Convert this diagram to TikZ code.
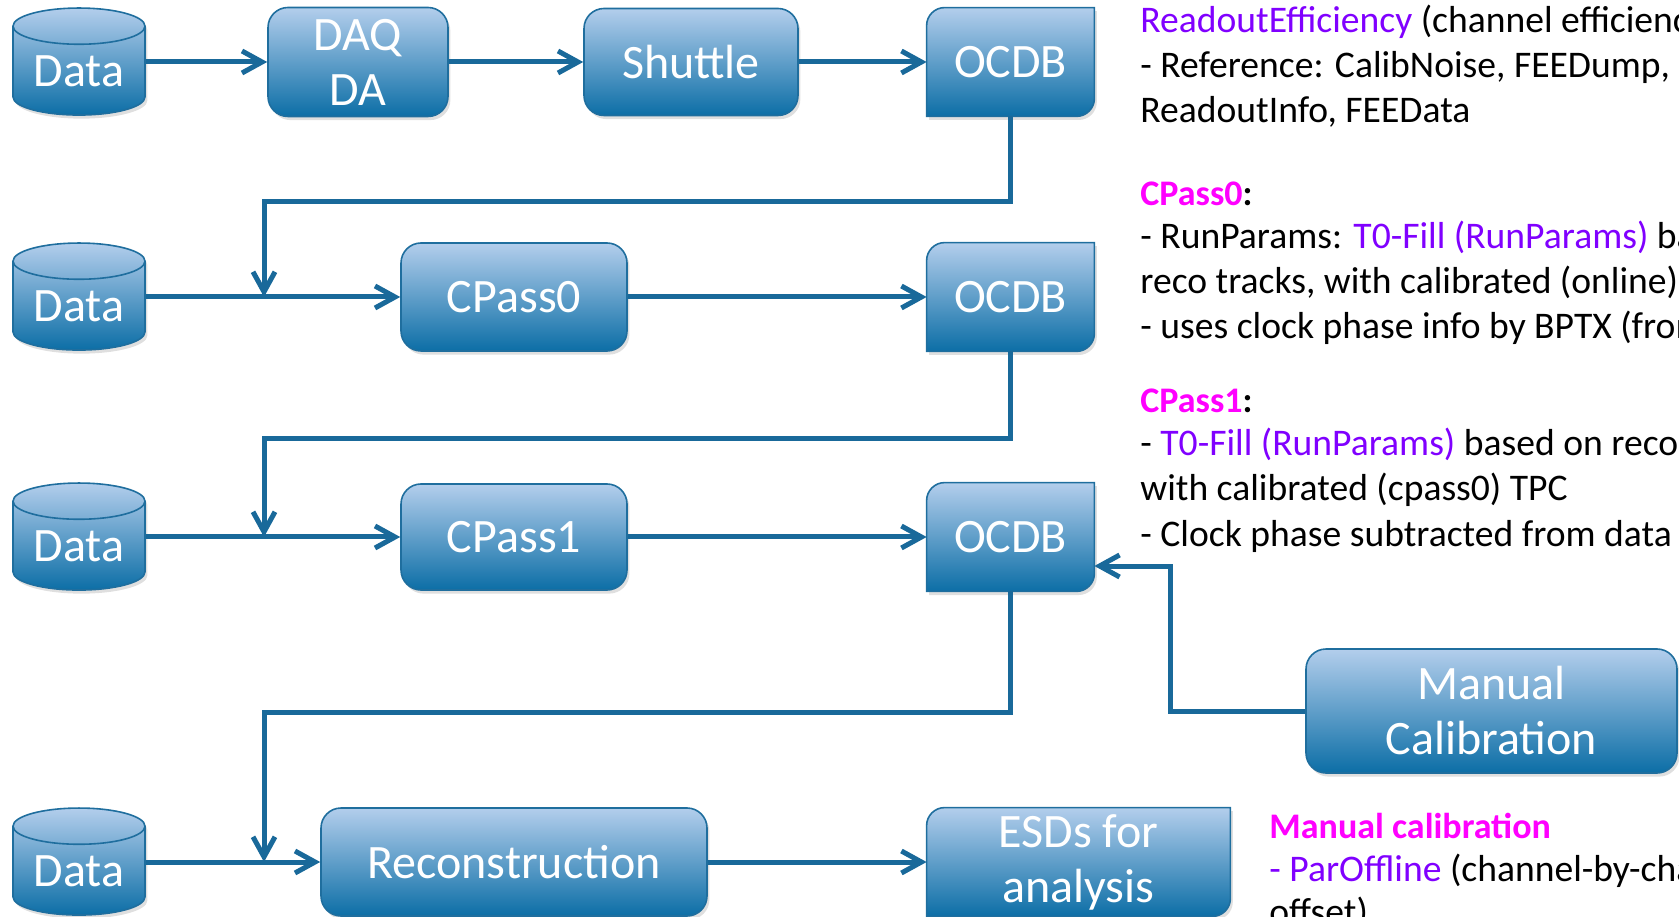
\documentclass[tikz,border=0pt]{standalone}
\usepackage{fontspec}
\setmainfont{Carlito}
\usetikzlibrary{shapes.geometric,arrows.meta,shadows,backgrounds}

\definecolor{boxline}{HTML}{1F6E9E}
\definecolor{flowline}{HTML}{19699A}
\definecolor{boxtop}{HTML}{B3CEEC}
\definecolor{boxbot}{HTML}{0C6EA6}
\definecolor{runpurple}{HTML}{8000FF}
\definecolor{passpink}{HTML}{FF00FF}

\tikzset{
  boxfill/.style={draw=boxline, line width=0.8pt, top color=boxtop, bottom color=boxbot,
    drop shadow={opacity=0.25, shadow xshift=1.2pt, shadow yshift=-1.8pt}},
  stage/.style={boxfill, rounded corners=10pt, text=white, align=center, inner sep=0pt,
    font=\fontsize{24}{27.5}\selectfont},
  dbbox/.style={text=white, align=center, inner sep=0pt, minimum width=83.5pt,
    minimum height=54pt, font=\fontsize{24}{27.5}\selectfont},
  store/.style={cylinder, shape border rotate=90, aspect=0.4, boxfill, text=white,
    inner sep=0pt, minimum width=66pt, minimum height=53.5pt,
    font=\fontsize{24}{27.5}\selectfont},
  flow/.style={draw=flowline, line width=2.5pt, -{Straight Barb[length=10pt,width=11pt]}},
  note/.style={anchor=base west, align=left, inner sep=0pt, font=\fontsize{18.8}{22.5}\selectfont}
}

% box with two rounded corners (top left, bottom right)
\newcommand\diagshape[1]{%
  \begin{scope}[on background layer]
    \shade[boxfill] (#1.south west) -- ([yshift=-9pt]#1.north west)
      arc[start angle=180,end angle=90,radius=9pt] -- (#1.north east)
      -- ([yshift=9pt]#1.south east)
      arc[start angle=0,end angle=-90,radius=9pt] -- cycle;
  \end{scope}}
\newcommand\headtxt[1]{{\fontsize{18}{22.5}\selectfont\bfseries #1}}

\begin{document}
\begin{tikzpicture}[x=0.5pt,y=0.5pt]
  \useasboundingbox (0,0) rectangle (1679,916);
  \clip (0,0) rectangle (1679,916);

  % row 1
  \node[store] (data1) at (79,845) {\raisebox{-3pt}{Data}};
  \node[stage, minimum width=90pt, minimum height=54.5pt] (daq) at (358,854) {DAQ\\DA};
  \node[stage, minimum width=107pt, minimum height=53.5pt] (shuttle) at (691,854) {Shuttle};
  \node[dbbox] (ocdb1) at (1010.5,854) {OCDB};
  \diagshape{ocdb1}

  % row 2
  \node[store] (data2) at (79,610) {\raisebox{-3pt}{Data}};
  \node[stage, minimum width=113pt, minimum height=54pt] (cpass0) at (514,619) {CPass0};
  \node[dbbox] (ocdb2) at (1010.5,619) {OCDB};
  \diagshape{ocdb2}

  % row 3
  \node[store] (data3) at (79,370) {\raisebox{-3pt}{Data}};
  \node[stage, minimum width=113pt, minimum height=53pt] (cpass1) at (514,379) {CPass1};
  \node[dbbox] (ocdb3) at (1010.5,379) {OCDB};
  \diagshape{ocdb3}
  \node[stage, minimum width=185.5pt, minimum height=62pt] (manual) at (1491.5,205) {Manual\\Calibration};

  % row 4
  \node[store] (data4) at (79,45) {\raisebox{-3pt}{Data}};
  \node[stage, minimum width=193pt, minimum height=54pt] (recon) at (514,54) {Reconstruction};
  \node[dbbox, minimum width=151.5pt] (esds) at (1078.5,54) {ESDs for\\analysis};
  \diagshape{esds}

  \coordinate (bend1) at (264,714);
  \coordinate (join1) at (264,619);
  \coordinate (bend2) at (264,477);
  \coordinate (join2) at (264,379);
  \coordinate (bend3) at (264,204);
  \coordinate (join3) at (264,54);
  \coordinate (mcup) at (1170,350);
  \coordinate (mcin) at (ocdb3.east |- mcup);

  \draw[flow] (data1.east |- daq.west) -- (daq.west);
  \draw[flow] (daq.east) -- (shuttle.west);
  \draw[flow] (shuttle.east) -- (ocdb1.west);
  \draw[flow] (ocdb1.south) |- (bend1) -- (join1);
  \draw[flow] (data2.east |- cpass0.west) -- (cpass0.west);
  \draw[flow] (cpass0.east) -- (ocdb2.west);
  \draw[flow] (ocdb2.south) |- (bend2) -- (join2);
  \draw[flow] (data3.east |- cpass1.west) -- (cpass1.west);
  \draw[flow] (cpass1.east) -- (ocdb3.west);
  \draw[flow] (ocdb3.south) |- (bend3) -- (join3);
  \draw[flow] (manual.west) -| (mcup) -- (mcin);
  \draw[flow] (data4.east |- recon.west) -- (recon.west);
  \draw[flow] (recon.east) -- (esds.west);

  % notes (anchored at the baseline of the last line)
  \node[note] (effnote) at (1140,793) {\textcolor{runpurple}{ReadoutEfficiency} (channel efficiency)\\
    - Reference: CalibNoise, FEEDump, DCSData\\
    ReadoutInfo, FEEData};
  \node[note] (pass0note) at (1140,577) {\headtxt{\textcolor{passpink}{CPass0}:}\\[-1pt]
    - RunParams: \textcolor{runpurple}{T0-Fill (RunParams)} based on\\
    reco tracks, with calibrated (online)\\
    - uses clock phase info by BPTX (from DCS)};
  \node[note] (pass1note) at (1140,370) {\headtxt{\textcolor{passpink}{CPass1}:}\\[-1pt]
    - \textcolor{runpurple}{T0-Fill (RunParams)} based on reco\\
    with calibrated (cpass0) TPC\\
    - Clock phase subtracted from data};
  \node[note] (manualnote) at (1269,-8) {\headtxt{\textcolor{passpink}{Manual calibration}}\\[-1pt]
    \textcolor{runpurple}{- ParOffline} (channel-by-channel\\[-1pt]
    offset)};
\end{tikzpicture}
\end{document}
